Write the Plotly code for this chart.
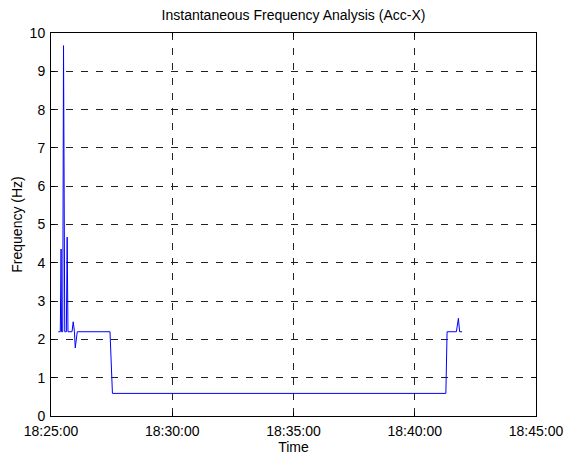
import plotly.graph_objects as go

# Instantaneous frequency samples (time of day, Hz)
times = [
    "18:25:18", "18:25:23", "18:25:25", "18:25:26", "18:25:29", "18:25:31",
    "18:25:34", "18:25:38", "18:25:40", "18:25:42", "18:25:52", "18:25:55",
    "18:25:58", "18:26:00", "18:26:05", "18:27:26", "18:27:32", "18:41:17",
    "18:41:20", "18:41:43", "18:41:48", "18:41:51", "18:41:57",
]
freq_hz = [
    2.2, 2.2, 4.36, 2.2, 2.2, 9.67,
    2.2, 2.2, 4.67, 2.2, 2.2, 2.46,
    2.2, 1.78, 2.2, 2.2, 0.59, 0.59,
    2.2, 2.2, 2.55, 2.2, 2.2,
]

day = "2000-01-01 "
x_ticks = ["18:25:00", "18:30:00", "18:35:00", "18:40:00", "18:45:00"]
y_ticks = list(range(0, 11))

FAMILY = "Liberation Sans, Arial, sans-serif"
font = dict(family=FAMILY, size=14, color="black")

fig = go.Figure()
fig.add_trace(go.Scatter(
    x=[day + t for t in times],
    y=freq_hz,
    mode="lines",
    line=dict(color="#0000ff", width=1),
    showlegend=False,
))

axis_style = dict(
    automargin=False,
    showgrid=True,
    gridcolor="#222222",
    gridwidth=1,
    griddash="7px,8px",
    showline=True,
    linecolor="black",
    linewidth=1,
    mirror="ticks",
    ticks="inside",
    ticklen=4,
    tickcolor="black",
    zeroline=False,
    tickfont=font,
)

fig.update_layout(
    width=567,
    height=455,
    margin=dict(l=51, r=31, t=33, b=39),
    paper_bgcolor="white",
    plot_bgcolor="white",
    font=font,
    title=dict(
        text="Instantaneous Frequency Analysis (Acc-X)",
        x=0.5, xanchor="center", xref="paper",
        y=1 - 15 / 455, yanchor="middle",
        font=dict(family=FAMILY, size=14, color="black"),
        automargin=False,
    ),
    xaxis=dict(
        type="date",
        range=[day + x_ticks[0], day + x_ticks[-1]],
        tickvals=[day + t for t in x_ticks],
        ticktext=x_ticks,
        ticklabelstandoff=2,
        title=dict(text="Time", standoff=2, font=font),
        **axis_style,
    ),
    yaxis=dict(
        range=[0, 10],
        tickvals=y_ticks,
        ticktext=[str(v) for v in y_ticks],
        ticklabelstandoff=2,
        title=dict(text="Frequency (Hz)", standoff=3, font=font),
        **axis_style,
    ),
)

fig.write_html("out.html")
